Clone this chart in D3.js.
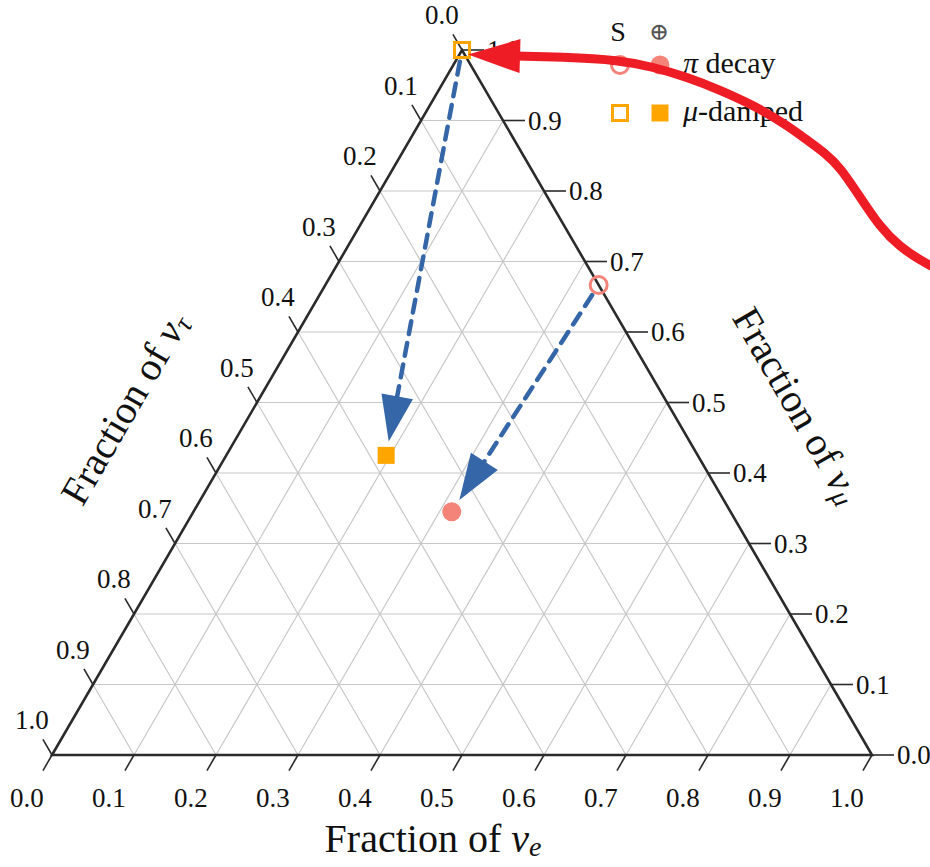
<!DOCTYPE html>
<html>
<head>
<meta charset="utf-8">
<script src="https://cdn.jsdelivr.net/npm/d3@7/dist/d3.min.js"></script>
<style>
  html, body { margin: 0; padding: 0; background: #fff; }
  svg { display: block; }
  text { font-family: "Liberation Serif", "DejaVu Serif", serif; fill: #111; }
</style>
</head>
<body>
<svg id="chart" width="930" height="867" font-family="Liberation Serif, serif"></svg>
<script>
// ---------------- data ----------------
const tickValues = [0.0, 0.1, 0.2, 0.3, 0.4, 0.5, 0.6, 0.7, 0.8, 0.9, 1.0];
const tickLabels = ["0.0","0.1","0.2","0.3","0.4","0.5","0.6","0.7","0.8","0.9","1.0"];
const seriesNames = ["π decay", "μ-damped"];
// flavour fractions [nu_e, nu_mu, nu_tau]
const sourceS     = [[1/3, 2/3, 0.0], [0.0, 1.0, 0.0]];           // at source (S)
const earthPlus   = [[0.315, 0.345, 0.34], [0.195, 0.425, 0.38]]; // at Earth (⊕)
const seriesColors = ["#F4837A", "#FFA500"];
// red annotation curve, in (horizontal fraction, nu_mu fraction) units
const redCurveU = [1.0890, 1.0768, 1.0585, 1.0341, 1.0098, 0.9854, 0.9610, 0.9427, 0.9207, 0.8963, 0.8549, 0.8146, 0.7744, 0.7329, 0.6927, 0.6195, 0.5683];
const redCurveV = [0.6809, 0.6908, 0.7021, 0.7206, 0.7489, 0.7915, 0.8340, 0.8539, 0.8723, 0.8936, 0.9220, 0.9433, 0.9617, 0.9759, 0.9858, 0.9901, 0.9915];
const redTip = [0.5073, 0.9935];

// ---------------- scales ----------------
const svg = d3.select("#chart");
const x = d3.scaleLinear().domain([0, 1]).range([52, 872]);
const y = d3.scaleLinear().domain([0, 1]).range([755, 50]);
const proj = (p) => [x(p[0] + p[1] / 2), y(p[1])];

const BL = proj([0, 0, 1]), BR = proj([1, 0, 0]), TOP = proj([0, 1, 0]);

// ---------------- grid ----------------
const grid = svg.append("g");
const inner = tickValues.filter(v => v > 0.001 && v < 0.999);
inner.forEach(v => {
  const segs = [
    [[v, 0, 1 - v], [v, 1 - v, 0]],
    [[0, v, 1 - v], [1 - v, v, 0]],
    [[1 - v, 0, v], [0, 1 - v, v]]
  ];
  segs.forEach(s => {
    const a = proj(s[0]), b = proj(s[1]);
    grid.append("line").attr("x1", a[0]).attr("y1", a[1]).attr("x2", b[0]).attr("y2", b[1])
      .attr("stroke", "#c8c8c8").attr("stroke-width", 1.2);
  });
});

// ---------------- triangle ----------------
svg.append("path")
  .attr("d", d3.line()([BL, BR, TOP]) + "Z")
  .attr("fill", "none").attr("stroke", "#2b2b2b").attr("stroke-width", 2.6)
  .attr("stroke-linejoin", "miter");

// ---------------- ticks ----------------
const unit = (a, b) => { const dx = b[0] - a[0], dy = b[1] - a[1], l = Math.hypot(dx, dy); return [dx / l, dy / l]; };
const dBottom = unit(TOP, BL);   // down-left
const dLeft = unit(BR, TOP);     // up-left
const ticksG = svg.append("g").attr("font-family", "Liberation Serif, serif");
const tickLen = 18;
tickValues.forEach((v, i) => {
  // bottom axis (nu_e)
  let p = proj([v, 0, 1 - v]);
  ticksG.append("line").attr("x1", p[0]).attr("y1", p[1])
    .attr("x2", p[0] + dBottom[0] * tickLen).attr("y2", p[1] + dBottom[1] * tickLen)
    .attr("stroke", "#2b2b2b").attr("stroke-width", 1.6);
  ticksG.append("text").attr("x", p[0] + dBottom[0] * 50).attr("y", p[1] + dBottom[1] * 50)
    .attr("text-anchor", "middle").attr("dominant-baseline", "central")
    .attr("font-size", 27).text(tickLabels[i]);
  // left axis (nu_tau)
  p = proj([0, 1 - v, v]);
  ticksG.append("line").attr("x1", p[0]).attr("y1", p[1])
    .attr("x2", p[0] + dLeft[0] * tickLen).attr("y2", p[1] + dLeft[1] * tickLen)
    .attr("stroke", "#2b2b2b").attr("stroke-width", 1.6);
  ticksG.append("text").attr("x", p[0] + dLeft[0] * 40).attr("y", p[1] + dLeft[1] * 40)
    .attr("text-anchor", "middle").attr("dominant-baseline", "central")
    .attr("font-size", 27).text(tickLabels[i]);
  // right axis (nu_mu)
  p = proj([1 - v, v, 0]);
  ticksG.append("line").attr("x1", p[0]).attr("y1", p[1])
    .attr("x2", p[0] + 22).attr("y2", p[1])
    .attr("stroke", "#2b2b2b").attr("stroke-width", 1.6);
  ticksG.append("text").attr("x", p[0] + 25).attr("y", p[1])
    .attr("text-anchor", "start").attr("dominant-baseline", "central")
    .attr("font-size", 27).text(tickLabels[i]);
});

// ---------------- axis titles ----------------
function title(g, sub, tx, ty, rot) {
  const t = g.append("text")
    .attr("transform", `translate(${tx},${ty}) rotate(${rot})`)
    .attr("text-anchor", "middle").attr("dominant-baseline", "central")
    .attr("font-size", 40);
  t.append("tspan").text("Fraction of ");
  t.append("tspan").attr("font-style", "italic").text("ν");
  t.append("tspan").attr("font-style", "italic").attr("font-size", 28).attr("dy", 8).text(sub);
}
const titles = svg.append("g");
title(titles, "e", 433, 838, 0);
title(titles, "τ", 124, 408, -60);
title(titles, "μ", 798, 405, 60);

// ---------------- blue dashed arrows ----------------
const blue = "#3566A8";
const arrowsG = svg.append("g");
sourceS.forEach((s, i) => {
  const a = proj(s), b = proj(earthPlus[i]);
  const u = unit(a, b);
  const start = [a[0] + u[0] * 12, a[1] + u[1] * 12];
  const tip = [b[0] - u[0] * 14, b[1] - u[1] * 14];
  const headLen = 46, headW = 16;
  const base = [tip[0] - u[0] * headLen, tip[1] - u[1] * headLen];
  arrowsG.append("line")
    .attr("x1", start[0]).attr("y1", start[1]).attr("x2", base[0] + u[0] * 4).attr("y2", base[1] + u[1] * 4)
    .attr("stroke", blue).attr("stroke-width", 4.5).attr("stroke-dasharray", "13,9")
    .attr("stroke-linecap", "round");
  const n = [-u[1], u[0]];
  arrowsG.append("path")
    .attr("d", d3.line()([tip, [base[0] + n[0] * headW, base[1] + n[1] * headW], [base[0] - n[0] * headW, base[1] - n[1] * headW]]) + "Z")
    .attr("fill", blue);
});

// ---------------- markers ----------------
const mk = svg.append("g");
function marker(g, cx, cy, type, color, filled) {
  if (type === 0) {
    g.append("circle").attr("cx", cx).attr("cy", cy).attr("r", filled ? 9.5 : 8.5)
      .attr("fill", filled ? color : "none").attr("stroke", filled ? "none" : color).attr("stroke-width", 3);
  } else {
    const s = filled ? 17 : 15;
    g.append("rect").attr("x", cx - s / 2).attr("y", cy - s / 2).attr("width", s).attr("height", s)
      .attr("fill", filled ? color : "none").attr("stroke", filled ? "none" : color).attr("stroke-width", 3);
  }
}
sourceS.forEach((s, i) => { const p = proj(s); marker(mk, p[0], p[1], i, seriesColors[i], false); });
earthPlus.forEach((s, i) => { const p = proj(s); marker(mk, p[0], p[1], i, seriesColors[i], true); });

// ---------------- legend ----------------
const lg = svg.append("g");
lg.append("text").attr("x", 618).attr("y", 31).attr("text-anchor", "middle").attr("dominant-baseline", "central")
  .attr("font-size", 28).text("S");
lg.append("text").attr("x", 659).attr("y", 32).attr("text-anchor", "middle").attr("dominant-baseline", "central")
  .attr("font-size", 24).style("font-family", "DejaVu Serif").style("fill", "#555").text("⊕");
seriesNames.forEach((name, i) => {
  const yy = 65 + i * 48;
  marker(lg, 620, yy, i, seriesColors[i], false);
  marker(lg, 660, yy, i, seriesColors[i], true);
  const t = lg.append("text").attr("x", 683).attr("y", yy + 8).attr("font-size", 30);
  const parts = name.split(/([πμ])/).filter(d => d.length);
  parts.forEach(pt => {
    const ts = t.append("tspan").text(pt);
    if (pt === "π" || pt === "μ") ts.attr("font-style", "italic");
  });
});

// ---------------- red annotation arrow ----------------
const red = "#EE1C25";
const redPts = redCurveU.map((u, i) => [x(u), y(redCurveV[i])]);
svg.append("path")
  .attr("d", d3.line().curve(d3.curveBasis)(redPts))
  .attr("fill", "none").attr("stroke", red).attr("stroke-width", 9);
const rEnd = redPts[redPts.length - 1];
const rTip = [x(redTip[0]), y(redTip[1])];
const ru = unit(rEnd, rTip), rn = [-ru[1], ru[0]];
const rBase = [rEnd[0] - ru[0] * 2, rEnd[1] - ru[1] * 2];
svg.append("path")
  .attr("d", d3.line()([rTip, [rBase[0] + rn[0] * 17, rBase[1] + rn[1] * 17], [rBase[0] - rn[0] * 17, rBase[1] - rn[1] * 17]]) + "Z")
  .attr("fill", red);
</script>
</body>
</html>
